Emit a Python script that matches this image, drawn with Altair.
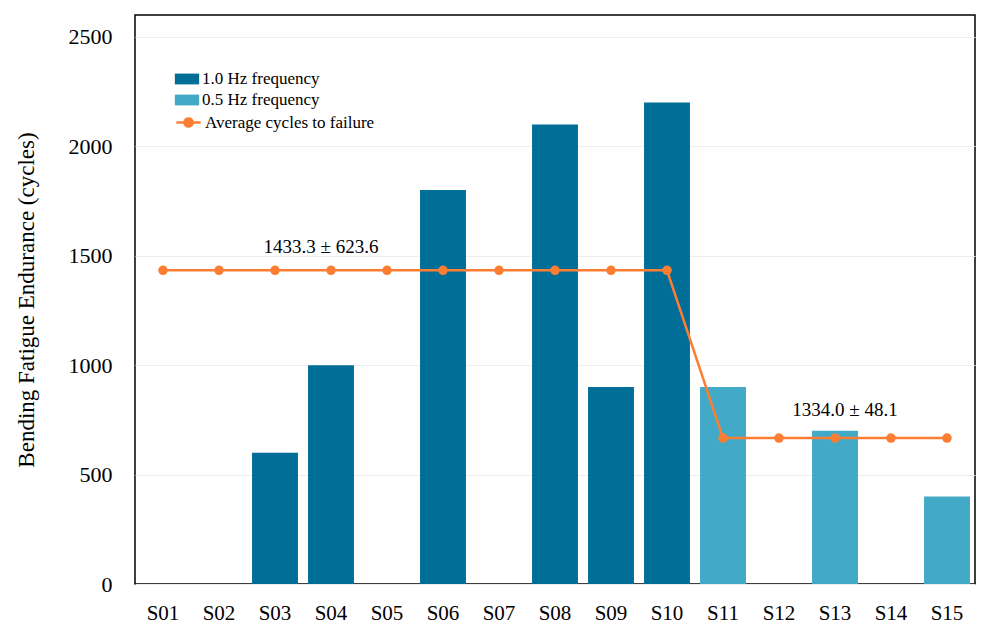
import altair as alt
import pandas as pd

samples = [f"S{i:02d}" for i in range(1, 16)]
cycles = [0, 0, 600, 1000, 0, 1800, 0, 2100, 900, 2200, 900, 0, 700, 0, 400]
groups = ["1.0 Hz frequency"] * 10 + ["0.5 Hz frequency"] * 5
avg_line = [1433.3] * 10 + [667.0] * 5
ann_samples = ["S04", "S13"]
ann_values = [1540, 795]
ann_text = ["1433.3 ± 623.6", "1334.0 ± 48.1"]

bar_names = ["1.0 Hz frequency", "0.5 Hz frequency"]
bar_colors = ["#006e96", "#42aac6"]
LINE = "Average cycles to failure"
ORANGE = "#fd7e33"

FONT = "Liberation Serif"

bars_df = pd.DataFrame({"sample": samples, "cycles": cycles, "series": groups})
line_df = pd.DataFrame({"sample": samples, "cycles": avg_line,
                        "series": [LINE] * len(samples)})
ann_df = pd.DataFrame({"sample": ann_samples, "cycles": ann_values, "text": ann_text})

line_shape = "M-1.35,0H1.35M-0.45,0A0.45,0.45 0 1 1 0.45,0A0.45,0.45 0 1 1 -0.45,0Z"
bar_shape = "M-1.35,-0.6H1.35V0.6H-1.35Z"

common_legend = dict(title=None, orient="none", padding=0,
                     labelFont=FONT, labelFontSize=17, labelColor="black",
                     labelLimit=400,
                     symbolSize=324, rowPadding=4, labelOffset=6)

x_enc = alt.X("sample:N", sort=samples, title=None,
              scale=alt.Scale(paddingInner=0.18, paddingOuter=0.09),
              axis=alt.Axis(labelAngle=0, labelFont=FONT, labelFontSize=21,
                            labelColor="black", ticks=False, domain=False,
                            labelPadding=18))
y_enc = alt.Y("cycles:Q", title="Bending Fatigue Endurance (cycles)",
              scale=alt.Scale(domain=[0, 2600], nice=False),
              axis=alt.Axis(values=[0, 500, 1000, 1500, 2000, 2500], format="d",
                            labelFont=FONT, labelFontSize=22, labelColor="black",
                            titleFont=FONT, titleFontSize=23, titleColor="black",
                            titleFontWeight="normal", ticks=False, domain=False,
                            gridColor="#eeeeee", gridWidth=1,
                            labelPadding=23, titlePadding=30))

bars = alt.Chart(bars_df).mark_bar().encode(
    x=x_enc, y=y_enc,
    color=alt.Color("series:N", scale=alt.Scale(domain=bar_names, range=bar_colors),
                    legend=alt.Legend(legendX=43, legendY=55, symbolType=bar_shape,
                                      symbolStrokeWidth=0, **common_legend)),
)

line = alt.Chart(line_df).mark_line(strokeWidth=2.5, color=ORANGE).encode(
    x=alt.X("sample:N", sort=samples),
    y="cycles:Q",
    strokeDash=alt.StrokeDash("series:N",
                              scale=alt.Scale(domain=[LINE], range=[[1, 0]]),
                              legend=alt.Legend(legendX=43, legendY=97,
                                                symbolType=line_shape,
                                                symbolFillColor=ORANGE,
                                                symbolStrokeColor=ORANGE,
                                                symbolStrokeWidth=2.5,
                                                **common_legend)),
)

points = alt.Chart(line_df).mark_circle(size=90, color=ORANGE, opacity=1).encode(
    x=alt.X("sample:N", sort=samples),
    y="cycles:Q",
)

ann1 = alt.Chart(ann_df.iloc[[0]]).mark_text(font=FONT, fontSize=19, color="black", dx=-10).encode(
    x=alt.X("sample:N", sort=samples), y="cycles:Q", text="text:N")
ann2 = alt.Chart(ann_df.iloc[[1]]).mark_text(font=FONT, fontSize=19, color="black", dx=10).encode(
    x=alt.X("sample:N", sort=samples), y="cycles:Q", text="text:N")

chart = alt.layer(bars, line, points, ann1, ann2).properties(
    width=840, height=569, padding={"left": 7, "top": 7, "right": 5, "bottom": 5},
    background="white",
).configure_view(stroke="black", strokeWidth=1.5)

chart.save("out.html", embed_options={"renderer": "svg", "actions": False})
